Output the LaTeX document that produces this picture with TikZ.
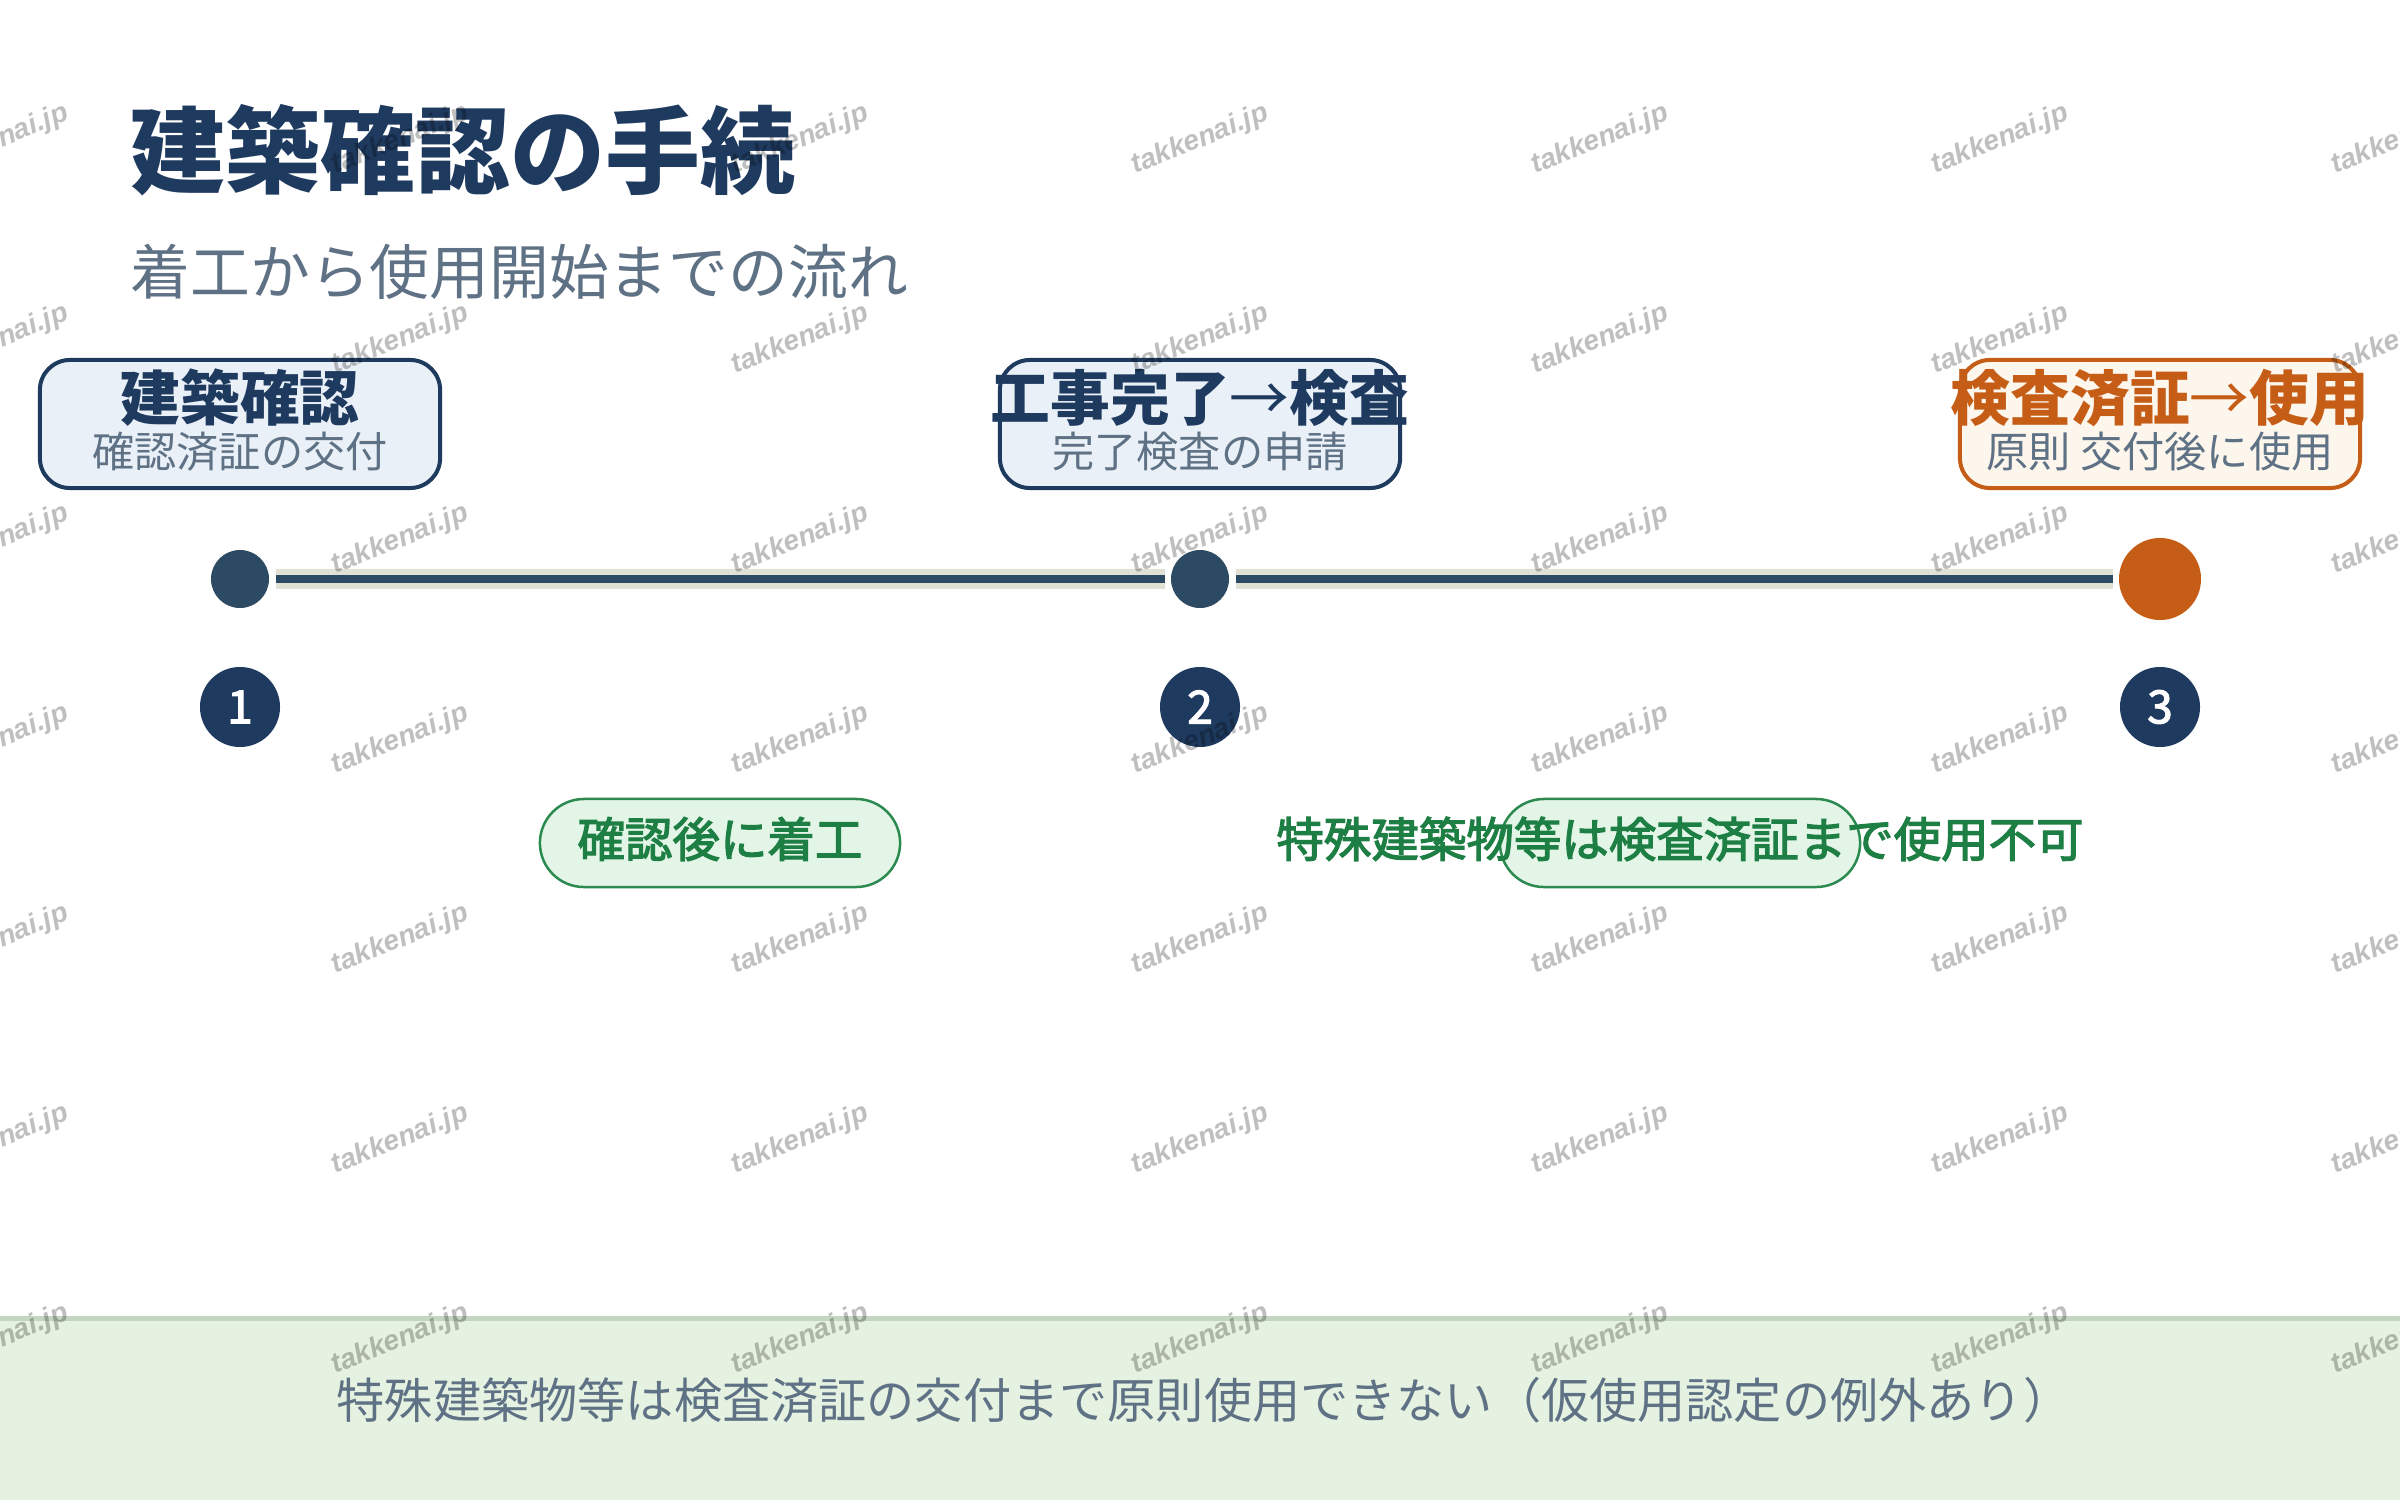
\documentclass[tikz,border=0pt]{standalone}
\usepackage{fontspec}
\setmainfont{Noto Sans CJK JP}
\newfontfamily\jpmed{Noto Sans CJK JP}[FakeBold=2.6]
\newfontfamily\wmfont{Liberation Sans}
\usepackage{xcolor}
\usetikzlibrary{positioning}
\usetikzlibrary{arrows,calc}

\definecolor{navy}{HTML}{1F3A5F}
\definecolor{dotnavy}{HTML}{2C4A63}
\definecolor{slate}{HTML}{5F7285}
\definecolor{boxfill}{HTML}{EAF0F7}
\definecolor{orange}{HTML}{C65D17}
\definecolor{orangefill}{HTML}{FDF6EC}
\definecolor{green}{HTML}{2A8A4F}
\definecolor{greentext}{HTML}{1E7F45}
\definecolor{greenfill}{HTML}{E3F5E6}
\definecolor{band}{HTML}{E1E1D6}
\definecolor{footfill}{HTML}{E6F2E1}
\definecolor{footline}{HTML}{C3D6BF}

\newcommand{\thinarrow}{{\mdseries →}}

\tikzset{
  stagebox/.style={draw=navy, line width=0.04cm, fill=boxfill, rounded corners=0.3cm,
    minimum width=4cm, minimum height=1.28cm, inner sep=0},
  stagetitle/.style={text=navy, font=\bfseries\fontsize{17}{20}\selectfont, inner sep=0},
  stagesub/.style={text=slate, font=\fontsize{12}{14}\selectfont, inner sep=0},
  dot/.style={circle, fill=dotnavy, minimum size=0.58cm, inner sep=0},
  badge/.style={circle, fill=navy, minimum size=0.8cm, inner sep=0, text=white,
    font=\jpmed\fontsize{13}{15}\selectfont},
  pill/.style={draw=green, line width=0.025cm, fill=greenfill, rounded corners=0.44cm,
    minimum width=3.6cm, minimum height=0.88cm, inner sep=0},
  pilltext/.style={text=greentext, font=\jpmed\fontsize{13.5}{16}\selectfont, inner sep=0},
  wmark/.style={rotate=22, text=black, text opacity=0.25,
    font=\wmfont\bfseries\itshape\fontsize{8}{9}\selectfont}
}

\begin{document}
\begin{tikzpicture}[x=0.01cm, y=-0.01cm]
\useasboundingbox [fill=white] (0,0) rectangle (2400,1500);

% heading
\node [anchor=west, text=navy, font=\bfseries\fontsize{27}{32}\selectfont, inner sep=0] (title) at (130,150) {建築確認の手続};
\node [anchor=west, text=slate, font=\fontsize{17}{20}\selectfont, inner sep=0] (subtitle) at (130,272) {着工から使用開始までの流れ};

% stage boxes
\node [stagebox] (box1) at (240,424) {};
\node [stagebox] (box2) at (1200,424) {};
\node [stagebox, draw=orange, fill=orangefill] (box3) at (2160,424) {};
\node [stagetitle] (t1) at (240,398) {建築確認};
\node [stagesub] (s1) at (240,452) {確認済証の交付};
\node [stagetitle] (t2) at (1200,398) {工事完了\thinarrow 検査};
\node [stagesub] (s2) at (1200,452) {完了検査の申請};
\node [stagetitle, text=orange] (t3) at (2160,398) {検査済証\thinarrow 使用};
\node [stagesub] (s3) at (2160,452) {原則\ 交付後に使用};

% timeline
\node [dot] (d1) at (240,579) {};
\node [dot] (d2) at (1200,579) {};
\node [dot, fill=orange, minimum size=0.82cm] (d3) at (2160,579) {};
\foreach \a/\b in {d1/d2, d2/d3} {
  \draw [band, line width=0.19cm, shorten <=0.06cm, shorten >=0.05cm] (\a) -- (\b);
  \draw [dotnavy, line width=0.08cm, shorten <=0.06cm, shorten >=0.05cm] (\a) -- (\b);
}

% step numbers
\node [badge] (n1) at (240,707) {1};
\node [badge] (n2) at (1200,707) {2};
\node [badge] (n3) at (2160,707) {3};

% notes between steps
\node [pill] (p1) at (720,843) {};
\node [pilltext] at ($(p1)+(0,-4)$) {確認後に着工};
\node [pill] (p2) at (1680,843) {};
\node [pilltext] at ($(p2)+(0,-4)$) {特殊建築物等は検査済証まで使用不可};

% footer
\fill [footfill] (0,1316) rectangle (2400,1500);
\draw [footline, line width=0.05cm] (0,1318) -- (2400,1318);
\node [text=slate, font=\fontsize{13.7}{16}\selectfont, inner sep=0] (foot) at (1204,1400) {特殊建築物等は検査済証の交付まで原則使用できない（仮使用認定の例外あり）};

% watermark
\foreach \x in {0,400,...,2400}
  \foreach \y in {140,340,...,1340}
    \node [wmark] at (\x,\y) {takkenai.jp};
\end{tikzpicture}
\end{document}
